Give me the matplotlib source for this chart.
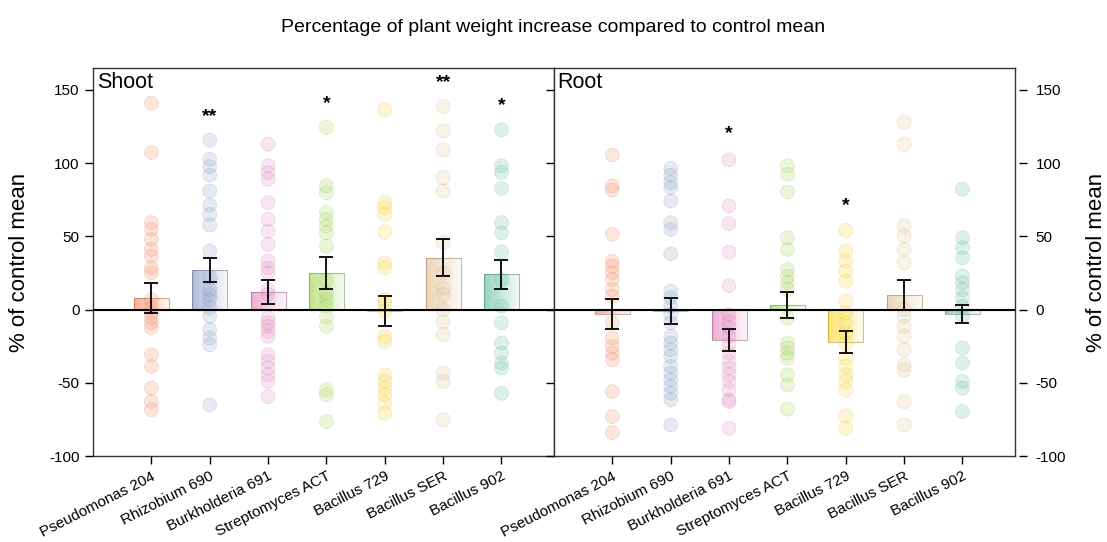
import numpy as np
import matplotlib
matplotlib.use("Agg")
import matplotlib.pyplot as plt
from matplotlib.colors import to_rgb
import matplotlib.transforms as mtransforms

plt.rcParams['font.family'] = ['Liberation Sans', 'DejaVu Sans']
plt.rcParams['axes.unicode_minus'] = False

categories = ["Pseudomonas 204", "Rhizobium 690", "Burkholderia 691",
              "Streptomyces ACT", "Bacillus 729", "Bacillus SER", "Bacillus 902"]
colors = ["#fc8d62", "#8da0cb", "#e78ac3", "#a6d854", "#ffd92f", "#e5c494", "#66c2a5"]

shoot_mean = [8, 27, 12, 25, -1, 35.5, 24]
shoot_se = [10, 8.5, 8.5, 11, 10.5, 12.7, 10]
root_mean = [-3, -1, -21, 3, -22, 10, -3]
root_se = [10, 9, 7.5, 9, 7.5, 10, 6]

shoot_points = [
    [140.9, 107.3, 59.4, 54.8, 47.9, 41.1, 36.5, 28.5, 25.1, 6.8, 1.2, -2.3, -5.7, -9.1, -12.5, -30.8, -38.8, -53.6, -62.8, -68.5],
    [115.8, 102.7, 97.7, 91.8, 81.0, 71.4, 65.1, 57.8, 40.0, 22.0, 13.7, 10.3, 6.8, 1.2, -4.6, -13.7, -19.4, -24.0, -65.1],
    [113, 98.2, 93.6, 89.0, 73.1, 61.6, 53.6, 44.5, 33.1, 28.5, 25.1, 13.7, 10.3, -5.7, -9.1, -11.4, -14.8, -18.3, -30.8, -35.4, -39.9, -44.5, -49.1, -59.4],
    [124.4, 84.5, 79.9, 66.2, 61.6, 57.1, 52.5, 43.4, 20.0, 11.4, 6.8, 2.3, -5.0, -11.4, -54.8, -58.2, -76.5],
    [136.5, 73.1, 69.6, 65.1, 53.0, 32.0, 28.5, 6.8, 3.4, -1.1, -18.3, -21.7, -44.5, -49.1, -53.6, -58.2, -63.9, -70.8],
    [138.8, 122.1, 109.1, 90.2, 81.0, 45.7, 25.1, 14.8, 10.3, 0, -8.0, -17.1, -43.4, -49.1, -75.3],
    [122.8, 98.2, 93.6, 82.7, 59.4, 52.5, 39.3, 20.5, 2.3, -9.1, -22.8, -29.7, -36.5, -39.9, -57.1],
]
root_points = [
    [105.5, 84.5, 81.7, 51.4, 33.1, 29.7, 25.1, 20.5, 13.7, 9.1, -9.1, -19.4, -25.1, -29.7, -34.2, -56.0, -73.1, -84.0],
    [96.4, 91.8, 86.8, 83.4, 74.2, 59.4, 54.8, 38.1, 12.6, 8.0, 2.3, -3.4, -9.1, -18.3, -22.8, -27.4, -32.0, -38.8, -43.4, -47.9, -52.5, -57.1, -61.6, -78.8],
    [102.3, 70.8, 58.7, 39.3, 16.4, -3.4, -8.0, -12.5, -18.3, -24.0, -29.7, -35.4, -39.9, -44.5, -49.1, -54.8, -61.6, -62.8, -81.0],
    [98.2, 92.5, 80.4, 49.1, 41.1, 27.4, 22.8, 18.3, 13.7, -5.7, -22.8, -26.2, -29.7, -33.1, -44.5, -51.4, -68.0],
    [54.1, 40.0, 33.1, 26.2, 19.4, 5.7, -2.3, -9.1, -16.0, -22.8, -33.1, -38.8, -44.5, -49.1, -54.8, -72.6, -81.0],
    [127.9, 113.0, 57.1, 50.2, 41.1, 32.0, 0, -4.6, -11.4, -18.3, -27.4, -37.7, -41.1, -62.8, -78.8],
    [82.2, 49.1, 42.3, 35.4, 22.8, 18.3, 13.7, 8.0, 2.3, -4.6, -26.2, -36.5, -49.1, -53.6, -69.6],
]
shoot_stars = ["", "**", "", "*", "", "**", "*"]
shoot_star_y = [0, 132, 0, 141, 0, 155, 139]
root_stars = ["", "", "*", "", "*", "", ""]
root_star_y = [0, 0, 120, 0, 71, 0, 0]
yticks = [-100, -50, 0, 50, 100, 150]

fig = plt.figure(figsize=(11.07, 5.42), dpi=100)
left, right, bottom, top = 93/1107, 1015/1107, 1-456/542, 1-68/542
mid = (left + right) / 2
axL = fig.add_axes([left, bottom, mid-left, top-bottom])
axR = fig.add_axes([mid, bottom, right-mid, top-bottom])

width = 0.6
x = np.arange(len(categories))

def draw(ax, means, ses, points, stars, star_y, label):
    for i, (m, s, pts, c) in enumerate(zip(means, ses, points, colors)):
        rgb = np.array(to_rgb(c))
        n = 64
        grad = np.zeros((1, n, 4))
        grad[0, :, :3] = rgb
        grad[0, :, 3] = np.linspace(0.7, 0.06, n)
        y0, y1 = min(0, m), max(0, m)
        ax.imshow(grad, extent=[i - width/2, i + width/2, y0, y1], aspect='auto',
                  interpolation='bilinear', zorder=2)
        ax.bar(i, m, width=width, facecolor='none',
               edgecolor=tuple(rgb*0.55) + (0.45,), linewidth=0.8, zorder=2.5)
        ax.scatter(np.full(len(pts), i), pts, s=100, facecolor=tuple(rgb) + (0.22,),
                   edgecolor=tuple(rgb*0.75) + (0.28,), linewidth=0.6,
                   linestyle=(0, (2, 1)), zorder=3)
        ax.errorbar(i, m, yerr=s, fmt='none', ecolor='black', elinewidth=1.3,
                    capsize=5, capthick=1.3, zorder=4)
    for i, (st, sy) in enumerate(zip(stars, star_y)):
        if st:
            ax.text(i, sy, st, ha='center', va='center', fontsize=14,
                    fontweight='bold', zorder=5)
    ax.axhline(0, color='black', lw=1.5, zorder=3.5)
    ax.set_xlim(-1.0, 6.9)
    ax.set_ylim(-100, 165)
    ax.set_xticks(x)
    ax.set_xticklabels(categories, rotation=27, ha='right', rotation_mode='anchor',
                       fontsize=11.5)
    offset = mtransforms.ScaledTranslation(3/100, 0, fig.dpi_scale_trans)
    for lab in ax.get_xticklabels():
        lab.set_transform(lab.get_transform() + offset)
    ax.set_yticks(yticks)
    ax.tick_params(axis='both', direction='out', length=6, labelsize=11, width=1.0)
    ax.text(0.008, 0.99, label, transform=ax.transAxes, ha='left', va='top', fontsize=15.5)
    for sp in ax.spines.values():
        sp.set_linewidth(1.0)
        sp.set_color('#333333')

draw(axL, shoot_mean, shoot_se, shoot_points, shoot_stars, shoot_star_y, "Shoot")
draw(axR, root_mean, root_se, root_points, root_stars, root_star_y, "Root")

axL.set_ylabel("% of control mean", fontsize=16, labelpad=14)
axR.tick_params(axis='y', left=False, labelleft=False)

tw = axR.twinx()
tw.set_ylim(axR.get_ylim())
tw.set_yticks(yticks)
tw.spines['right'].set_position(('outward', 3))
tw.spines['right'].set_visible(False)
for s in ['left', 'top', 'bottom']:
    tw.spines[s].set_visible(False)
tw.tick_params(axis='y', direction='out', length=6, labelsize=11, width=1.0, pad=6)
tw.set_ylabel("% of control mean", fontsize=16, labelpad=14)

fig.suptitle("Percentage of plant weight increase compared to control mean",
             fontsize=14, y=0.965)

fig.savefig("out.png", dpi=100)
